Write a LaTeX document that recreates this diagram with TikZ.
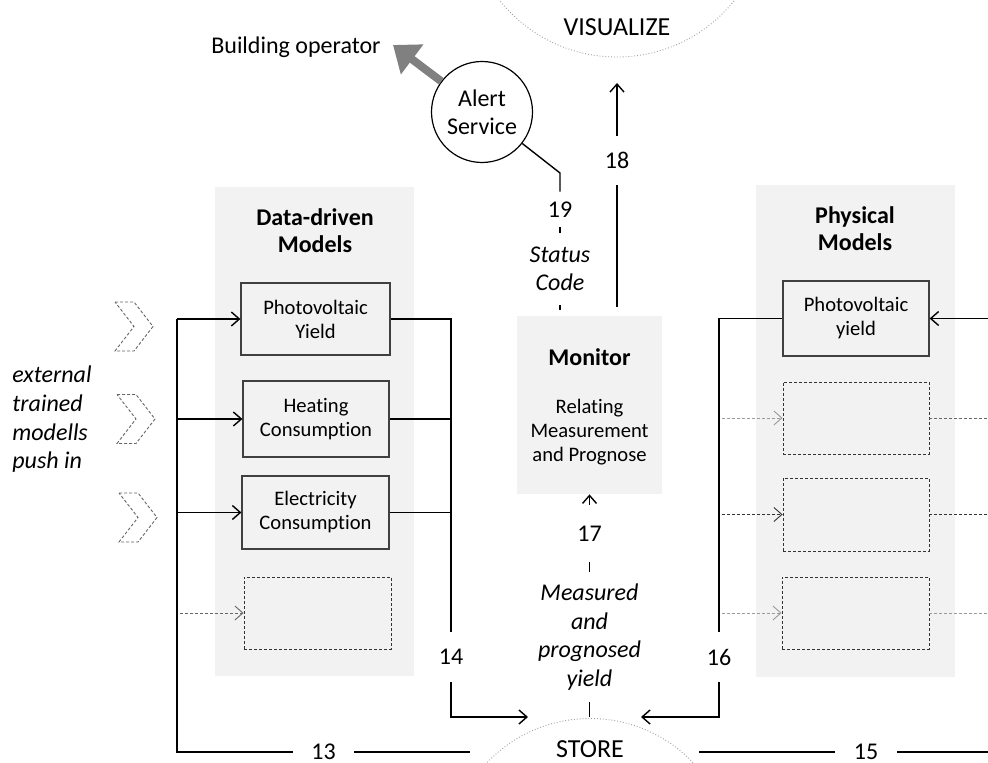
\documentclass[tikz,border=0pt]{standalone}
\usepackage{fontspec}
\setmainfont{Carlito}[Ligatures=NoCommon]
\usetikzlibrary{arrows.meta}
\definecolor{panelgray}{HTML}{F2F2F2}
\definecolor{boxline}{HTML}{404040}
\definecolor{dashdark}{HTML}{333333}
\definecolor{dashmid}{HTML}{666666}
\definecolor{dashlight}{HTML}{9A9A9A}
\definecolor{arcgray}{HTML}{A0A0A0}
\definecolor{bigarrow}{HTML}{808080}
\begin{document}
\begin{tikzpicture}[x=0.5pt,y=-0.5pt,
  panel/.style={fill=panelgray, draw=none, inner sep=0pt},
  modelbox/.style={draw=boxline, fill=panelgray, line width=0.6pt, align=center, inner sep=0pt, font=\fontsize{10.3}{12}\selectfont},
  dashbox/.style={draw=dashdark, dash pattern=on 1.5pt off 1pt, line width=0.45pt, fill=panelgray, inner sep=0pt},
  ln/.style={draw=black, line width=0.7pt},
  arr/.style={ln, -{Straight Barb[length=4pt,width=7pt]}},
  dasharr/.style={line width=0.45pt, dash pattern=on 1.5pt off 1pt, -{Straight Barb[length=4pt,width=7pt]}},
  dashln/.style={line width=0.45pt, dash pattern=on 1.5pt off 1pt},
  numlbl/.style={font=\fontsize{12}{14}\selectfont, inner sep=0pt},
  itlbl/.style={font=\itshape\fontsize{12}{14.3}\selectfont, inner sep=0pt, align=center},
  titletext/.style={font=\bfseries\fontsize{12}{13.5}\selectfont, align=center, inner sep=0pt},
  plaintext/.style={font=\fontsize{12}{14}\selectfont, inner sep=0pt},
  chev/.style={draw=dashmid, line width=0.45pt, dash pattern=on 1.5pt off 1pt}
]
\useasboundingbox (0,0) rectangle (988,763);

% arcs
\begin{scope}
  \clip (0,0) rectangle (988,763);
  \draw[arcgray, densely dotted, line width=0.45pt] (617,-93) circle[radius=150];
  \draw[arcgray, densely dotted, line width=0.45pt] (590,861) circle[radius=142.5];
\end{scope}
\node[font=\fontsize{13}{15}\selectfont, inner sep=0pt] (vis) at (617,27) {VISUALIZE};
\node[font=\fontsize{13}{15}\selectfont, inner sep=0pt] (store) at (590,749) {STORE};

% panels
\node[panel, minimum width=99.5pt, minimum height=244.5pt] (ddm) at (314.5,431.5) {};
\node[panel, minimum width=99.5pt, minimum height=246pt] (phys) at (855.5,431) {};
\node[panel, minimum width=72.5pt, minimum height=89pt] (monitor) at (589.5,405) {};

\node[titletext] (ddmtitle) at (315,231) {Data-driven\\Models};
\node[titletext] (phystitle) at (855,229) {Physical\\Models};
\node[titletext] (montitle) at (589.5,357) {Monitor};
\node[font=\fontsize{10.3}{12}\selectfont, align=center, inner sep=0pt] (montext) at (589.5,432) {Relating\\Measurement\\and Prognose};

% data-driven boxes
\node[modelbox, minimum width=74.5pt, minimum height=36pt] (dpv) at (315.5,319) {Photovoltaic\\Yield};
\node[modelbox, minimum width=73pt, minimum height=38pt] (dheat) at (316,419) {Heating\\Consumption};
\node[modelbox, minimum width=73.5pt, minimum height=36.5pt] (delec) at (315.5,512.5) {Electricity\\Consumption};
\node[dashbox, minimum width=73.5pt, minimum height=36pt] (ddash) at (317.5,613) {};

% physical boxes
\node[modelbox, minimum width=73pt, minimum height=37.5pt] (ppv) at (856,318.5) {Photovoltaic\\yield};
\node[dashbox, minimum width=73pt, minimum height=36pt] (pd1) at (856,418) {};
\node[dashbox, minimum width=73pt, minimum height=36.5pt] (pd2) at (856,514.5) {};
\node[dashbox, minimum width=73.5pt, minimum height=36pt] (pd3) at (855.5,613) {};

% alert service
\node[circle, draw, line width=0.6pt, minimum size=50.5pt, inner sep=0pt, align=center, font=\fontsize{12}{14}\selectfont] (alert) at (482,112) {Alert\\Service};
\node[plaintext] (operator) at (296,47) {Building operator};
\coordinate (optip) at (393,45);
\draw[bigarrow, line width=4pt, -{Triangle[length=12pt,width=18pt]}] (alert) -- (optip);

% chevrons
\foreach \cx/\cy in {134/326.5, 136/419, 138/517.5}{
  \draw[chev] (\cx-19,\cy-24.5) -- ++(19,0) -- ++(19,24.5) -- ++(-19,24.5) -- ++(-19,0) -- ++(19,-24.5) -- cycle;
}
\node[itlbl, align=left, anchor=west] (ext) at (12,419.5) {external\\trained\\modells\\push in};

% labels on connectors
\node[numlbl, minimum width=30.5pt] (l13) at (323.5,752) {13};
\node[numlbl, minimum width=31pt] (l15) at (866,752) {15};
\node[numlbl, minimum height=25pt] (l14) at (451,657) {14};
\node[numlbl, minimum height=25pt] (l16) at (719,657) {16};
\node[numlbl, minimum height=28.5pt] (l17) at (589.5,533.5) {17};
\node[itlbl, minimum height=65pt] (lmeas) at (589.5,637) {Measured\\and\\prognosed\\yield};
\node[numlbl, minimum height=24.5pt] (l18) at (617,160.5) {18};
\node[numlbl, minimum height=17.5pt] (l19) at (560,209.5) {19};
\node[itlbl, minimum height=36pt] (lstatus) at (560,269) {Status\\Code};

% coordinates
\coordinate (bustop) at (177,319);
\coordinate (busbot) at (177,752);
\coordinate (end13) at (470,752);
\coordinate (s14) at (528,717);
\coordinate (s16) at (641,717);
\coordinate (start15) at (699,752);
\coordinate (end15) at (988,752);
\coordinate (rin) at (988,318.5);
\coordinate (store17) at (589.5,717);
\coordinate (vis18) at (617,83);
\coordinate (c19) at (560,173);
\coordinate (dashin) at (180,613);
\coordinate (pbus) at (722,400);
\coordinate (redge) at (988,400);

% 13
\draw[ln] (bustop) -- (busbot) -- (l13);
\draw[ln] (l13) -- (end13);
\draw[arr] (bustop) -- (dpv.west);
\draw[arr] (bustop |- dheat.west) -- (dheat.west);
\draw[arr] (bustop |- delec.west) -- (delec.west);
\draw[dasharr, dashmid] (dashin) -- (ddash.west);

% 14
\draw[ln] (dpv.east) -| (l14);
\draw[ln] (dheat.east) -- (l14 |- dheat.east);
\draw[ln] (delec.east) -- (l14 |- delec.east);
\draw[arr] (l14) |- (s14);

% 15
\draw[ln] (start15) -- (l15);
\draw[ln] (l15) -- (end15);

% 16
\draw[arr] (rin) -- (ppv.east);
\draw[ln] (ppv.west) -| (l16);
\draw[arr] (l16) |- (s16);
\draw[dasharr, dashlight] (pbus |- pd1.west) -- (pd1.west);
\draw[dasharr, dashdark] (pbus |- pd2.west) -- (pd2.west);
\draw[dasharr, dashlight] (pbus |- pd3.west) -- (pd3.west);
\draw[dashln, dashmid] (pd1.east) -- (redge |- pd1.east);
\draw[dashln, dashdark] (pd2.east) -- (redge |- pd2.east);
\draw[dashln, dashlight] (pd3.east) -- (redge |- pd3.east);

% 17
\draw[ln] (store17) -- (lmeas);
\draw[ln] (lmeas) -- (l17);
\draw[arr] (l17) -- (monitor.south);

% 18
\draw[ln, shorten <=4.5pt] (monitor.north -| l18) -- (l18);
\draw[arr] (l18) -- (vis18);

% 19
\draw[ln, shorten <=3pt] (monitor.north -| l19) -- (lstatus);
\draw[ln] (lstatus) -- (l19);
\draw[ln] (l19) -- (c19) -- (alert);
\end{tikzpicture}
\end{document}
